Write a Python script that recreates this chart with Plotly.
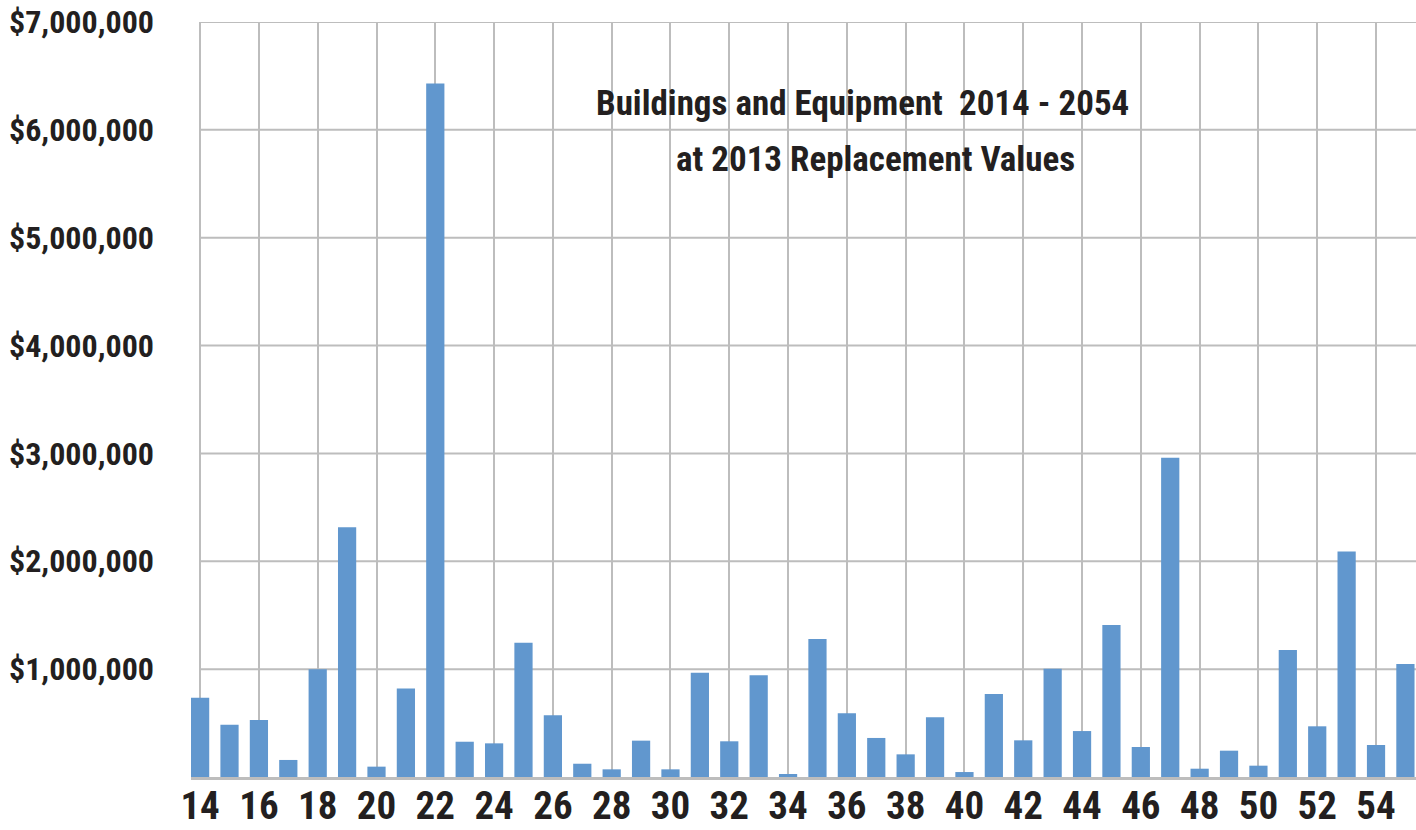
import plotly.graph_objects as go

years = list(range(14, 56))
values = [
    735000, 485000, 528000, 158000, 1000000, 2315000, 96000, 820000, 6430000, 327000,
    312000, 1245000, 572000, 123000, 71000, 337000, 71000, 967000, 331000, 943000,
    28000, 1280000, 590000, 362000, 210000, 553000, 46000, 770000, 340000, 1004000,
    426000, 1410000, 278000, 2960000, 77000, 244000, 105000, 1178000, 470000, 2090000,
    297000, 1048000,
]
tick_vals = list(range(14, 56, 2))
tick_text = [str(v) for v in tick_vals]
y_ticks = [0, 1000000, 2000000, 3000000, 4000000, 5000000, 6000000, 7000000]
y_labels = ["", "$1,000,000", "$2,000,000", "$3,000,000", "$4,000,000",
            "$5,000,000", "$6,000,000", "$7,000,000"]
title_lines = ["Buildings and Equipment  2014 - 2054", "at 2013 Replacement Values"]

FONT = "Roboto Condensed, Liberation Sans Narrow, Arial Narrow, Liberation Sans, sans-serif"
GRID = "#bdbdbd"
TXT = "#231f20"

fig = go.Figure()
fig.add_trace(go.Bar(x=years, y=values, marker_color="#6197CE",
                     marker_line_width=0, width=0.62))

x_lo, x_hi = 13.69, 55.36

shapes = []
for v in y_ticks[1:]:
    shapes.append(dict(type="line", xref="x", yref="y", x0=14, x1=x_hi, y0=v, y1=v,
                       line=dict(color=GRID, width=2), layer="below"))
# white box behind the title
shapes.append(dict(type="rect", xref="paper", yref="paper",
                   x0=(523 - 191) / 1225, x1=(1227 - 191) / 1225,
                   y0=(777 - 189) / 755, y1=(777 - 73) / 755,
                   fillcolor="white", line=dict(width=0), layer="between"))

def px_x(p):
    return (p - 191) / 1225

def px_y(p):
    return (777 - p) / 755

annotations = [
    dict(xref="paper", yref="paper", x=px_x(862), y=px_y(104),
         text="<b>" + title_lines[0] + "</b>", showarrow=False,
         xanchor="center", yanchor="middle",
         font=dict(family=FONT, size=35, color=TXT)),
    dict(xref="paper", yref="paper", x=px_x(875), y=px_y(160),
         text="<b>" + title_lines[1] + "</b>", showarrow=False,
         xanchor="center", yanchor="middle",
         font=dict(family=FONT, size=35, color=TXT)),
]

fig.update_layout(
    width=1416, height=830,
    margin=dict(l=191, r=0, t=22, b=53, pad=0),
    paper_bgcolor="white", plot_bgcolor="white",
    showlegend=False,
    shapes=shapes,
    font=dict(family=FONT, color=TXT),
    annotations=annotations,
)
fig.update_xaxes(
    range=[x_lo, x_hi], tickmode="array", tickvals=tick_vals, ticktext=tick_text,
    showgrid=True, gridcolor=GRID, gridwidth=2,
    showline=True, linecolor=GRID, linewidth=3,
    ticks="", tickfont=dict(family=FONT, size=39, color=TXT, weight="bold"),
    ticklabelstandoff=-8,
    zeroline=False, fixedrange=True, automargin=False,
)
fig.update_yaxes(
    range=[0, 7000000], tickmode="array", tickvals=y_ticks, ticktext=y_labels,
    showgrid=False, zeroline=False, showline=False, ticks="",
    tickfont=dict(family=FONT, size=32, color=TXT, weight="bold"),
    ticklabelstandoff=36, fixedrange=True, automargin=False,
)

fig.write_html(
    "out.html",
    config={"displayModeBar": False, "staticPlot": True},
    post_script="document.body.style.margin='0';document.body.style.overflow='hidden';",
)
